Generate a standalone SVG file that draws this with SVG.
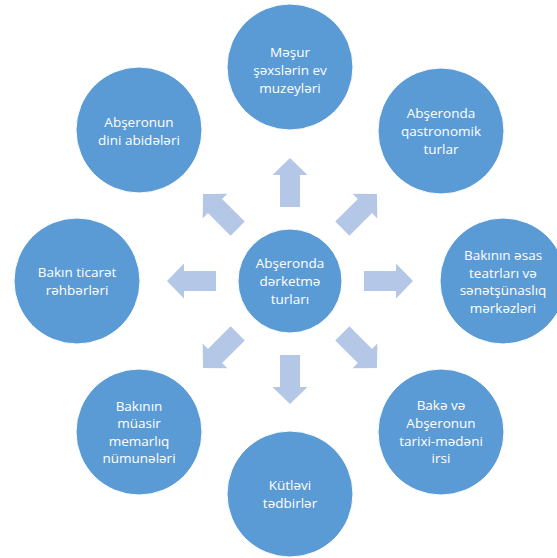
<svg xmlns="http://www.w3.org/2000/svg" width="557" height="558" viewBox="0 0 557 558">
<style>
.c{fill:#5B9BD5;stroke:#FFFFFF;stroke-width:1}
.a{fill:#B4C7E7}
.t{font-family:"Open Sans","Noto Sans","DejaVu Sans",sans-serif;font-size:13.5px;fill:#FFFFFF;text-anchor:middle}
</style>
<defs>
<path id="arr" d="M74,-10 H106 V-17.5 L123,0 L106,17.5 V10 H74 Z"/>
</defs>
<rect width="557" height="558" fill="#FFFFFF"/>
<g id="connectors">
<use href="#arr" class="a" transform="translate(290,281) rotate(-90)"/>
<use href="#arr" class="a" transform="translate(290,281) rotate(-45)"/>
<use href="#arr" class="a" transform="translate(290,281) rotate(0)"/>
<use href="#arr" class="a" transform="translate(290,281) rotate(45)"/>
<use href="#arr" class="a" transform="translate(290,281) rotate(90)"/>
<use href="#arr" class="a" transform="translate(290,281) rotate(135)"/>
<use href="#arr" class="a" transform="translate(290,281) rotate(180)"/>
<use href="#arr" class="a" transform="translate(290,281) rotate(-135)"/>
</g>
<g id="center">
<circle class="c" cx="290" cy="281" r="52"/>
<text class="t" x="290" y="268">Abşeronda</text>
<text class="t" x="290" y="286">dərketmə</text>
<text class="t" x="290" y="304">turları</text>
</g>
<g id="top">
<circle class="c" cx="290" cy="67" r="63"/>
<text class="t" x="290" y="57">Məşur</text>
<text class="t" x="290" y="75">şəxslərin ev</text>
<text class="t" x="290" y="93">muzeyləri</text>
</g>
<g id="topright">
<circle class="c" cx="441" cy="131" r="63"/>
<text class="t" x="441" y="118">Abşeronda</text>
<text class="t" x="441" y="136">qastronomik</text>
<text class="t" x="441" y="154">turlar</text>
</g>
<g id="right">
<circle class="c" cx="503" cy="281" r="63"/>
<text class="t" x="503" y="260">Bakının əsas</text>
<text class="t" x="503" y="278">teatrları və</text>
<text class="t" x="503" y="295">sənətşünaslıq</text>
<text class="t" x="503" y="313">mərkəzləri</text>
</g>
<g id="bottomright">
<circle class="c" cx="441" cy="432" r="63"/>
<text class="t" x="441" y="410">Bakə və</text>
<text class="t" x="441" y="428">Abşeronun</text>
<text class="t" x="441" y="446">tarixi-mədəni</text>
<text class="t" x="441" y="463">irsi</text>
</g>
<g id="bottom">
<circle class="c" cx="290" cy="494" r="63"/>
<text class="t" x="290" y="490">Kütləvi</text>
<text class="t" x="290" y="508">tədbirlər</text>
</g>
<g id="bottomleft">
<circle class="c" cx="139" cy="432" r="63"/>
<text class="t" x="139" y="411">Bakının</text>
<text class="t" x="139" y="428">müasir</text>
<text class="t" x="139" y="446">memarlıq</text>
<text class="t" x="139" y="463">nümunələri</text>
</g>
<g id="left">
<circle class="c" cx="77" cy="281" r="63"/>
<text class="t" x="77" y="277">Bakın ticarət</text>
<text class="t" x="77" y="295">rəhbərləri</text>
</g>
<g id="topleft">
<circle class="c" cx="139" cy="130" r="63"/>
<text class="t" x="139" y="127">Abşeronun</text>
<text class="t" x="139" y="145">dini abidələri</text>
</g>
</svg>
